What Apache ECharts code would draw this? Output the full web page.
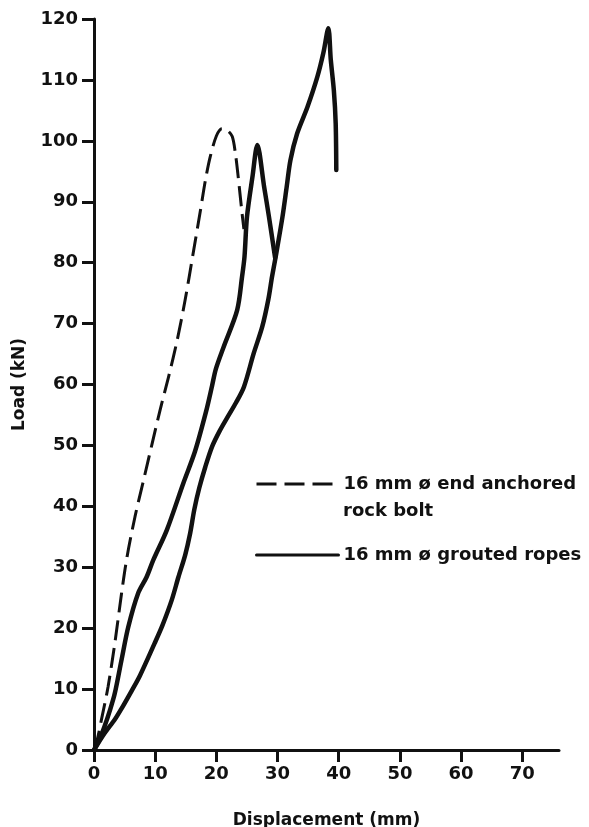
<!DOCTYPE html>
<html>
<head>
<meta charset="utf-8">
<script src="https://cdn.jsdelivr.net/npm/echarts@6/dist/echarts.min.js"></script>
<style>
html,body{margin:0;padding:0;background:#fff;}
#chart{width:589px;height:827px;}
</style>
</head>
<body>
<div id="chart"></div>
<script>
// ---- Data ----
const xTicks = [0, 10, 20, 30, 40, 50, 60, 70];
const yTicks = [0, 10, 20, 30, 40, 50, 60, 70, 80, 90, 100, 110, 120];

const seriesNames = ['16 mm ø end anchored', '16 mm ø grouted ropes'];
const extraLegendLine = 'rock bolt';

// 16 mm end anchored rock bolt (dashed)
const boltX = [0, 0.6, 1.2, 2.3, 3.4, 4.5, 5.4, 6.7, 8.1, 9.5, 10.8, 12.2, 13.6, 14.9, 16.2, 17.4, 18.2, 19.0, 20.0, 20.9, 21.8, 22.6, 23.1, 23.5, 24.2, 24.5];
const boltY = [0, 2.0, 4.9, 10.4, 17.5, 25.7, 31.7, 38.3, 44.3, 50.3, 55.8, 61.3, 67.3, 73.9, 81.5, 88.6, 93.5, 97.4, 100.8, 102.0, 101.7, 100.7, 98.0, 94.7, 88.1, 85.5];

// 16 mm grouted rope, first specimen (peak near 99 kN)
const ropeAX = [0, 0.8, 1.7, 2.6, 3.4, 4.5, 5.6, 7.2, 8.6, 9.7, 11.9, 14.6, 16.5, 18.3, 19.3, 19.9, 21.2, 23.4, 24.2, 24.6, 25.0, 25.9, 26.7, 27.8, 28.6, 29.6];
const ropeAY = [0, 1.5, 3.8, 6.5, 9.3, 14.8, 20.2, 25.7, 28.4, 31.2, 36.1, 43.8, 49.0, 55.5, 59.8, 62.5, 66.2, 72.2, 77.7, 81.0, 87.5, 94.1, 99.3, 92.5, 87.5, 80.8];

// 16 mm grouted rope, second specimen (peak near 118 kN)
const ropeBX = [0, 1.7, 3.4, 4.5, 6.2, 7.5, 9.9, 11.2, 12.7, 13.8, 14.9, 15.7, 16.4, 17.2, 18.2, 19.3, 20.5, 21.8, 23.2, 24.5, 26.1, 27.5, 28.5, 29.1, 29.7, 30.8, 31.5, 32.1, 33.2, 34.9, 36.5, 37.5, 38.3, 38.7, 39.2, 39.5, 39.6];
const ropeBY = [0, 2.7, 5.0, 6.8, 9.8, 12.2, 17.5, 20.5, 24.6, 28.4, 32.0, 35.5, 39.5, 43.0, 46.5, 49.8, 52.3, 54.6, 57.0, 59.6, 65.1, 69.5, 74.0, 77.7, 81.0, 87.5, 92.5, 96.8, 101.2, 105.6, 110.5, 114.5, 118.5, 113.3, 108.3, 102.9, 95.2];

const pairs = (xs, ys) => xs.map((x, i) => [x, ys[i]]);

const INK = '#111';
const FONT = 'DejaVu Sans';

const chart = echarts.init(document.getElementById('chart'), null, {renderer: 'canvas'});
chart.setOption({
  backgroundColor: '#fff',
  animation: false,
  grid: {left: 94, right: 30, top: 19, bottom: 77, containLabel: false, outerBoundsMode: 'none'},
  xAxis: {
    type: 'value', min: 0, max: 76, interval: 10,
    name: 'Displacement (mm)', nameLocation: 'middle', nameGap: 62,
    nameTextStyle: {color: INK, fontFamily: FONT, fontWeight: 'bold', fontSize: 17},
    axisLine: {show: true, lineStyle: {color: INK, width: 3}},
    axisTick: {show: true, length: 12, lineStyle: {color: INK, width: 3}, customValues: xTicks},
    axisLabel: {color: INK, fontFamily: FONT, fontWeight: 'bold', fontSize: 18, margin: 15, customValues: xTicks},
    splitLine: {show: false}
  },
  yAxis: {
    type: 'value', min: 0, max: 120, interval: 10,
    name: 'Load (kN)', nameLocation: 'middle', nameGap: 66, nameRotate: 90,
    nameTextStyle: {color: INK, fontFamily: FONT, fontWeight: 'bold', fontSize: 17},
    axisLine: {show: true, lineStyle: {color: INK, width: 3}},
    axisTick: {show: true, length: 12, lineStyle: {color: INK, width: 3}, customValues: yTicks},
    axisLabel: {color: INK, fontFamily: FONT, fontWeight: 'bold', fontSize: 18, margin: 16, customValues: yTicks},
    splitLine: {show: false}
  },
  legend: {
    orient: 'vertical', left: 250, top: 469,
    itemWidth: 82, itemHeight: 14, itemGap: 51,
    selectedMode: false,
    itemStyle: {opacity: 0},
    lineStyle: {width: 3},
    textStyle: {color: INK, fontFamily: FONT, fontWeight: 'bold', fontSize: 18, lineHeight: 20},
    data: [{name: seriesNames[0]}, {name: seriesNames[1]}]
  },
  graphic: [{
    type: 'text', left: 343, top: 502,
    style: {text: extraLegendLine, fill: INK, font: 'bold 18px "DejaVu Sans"'}
  }],
  series: [
    {
      name: seriesNames[0], type: 'line', data: pairs(boltX, boltY),
      smooth: 0.3, symbol: 'none', showSymbol: false,
      lineStyle: {color: INK, width: 3, type: [20, 8]}, itemStyle: {color: INK}
    },
    {
      name: seriesNames[1], type: 'line', data: pairs(ropeAX, ropeAY),
      smooth: 0.3, symbol: 'none', showSymbol: false,
      lineStyle: {color: INK, width: 4.5, cap: 'round', join: 'round'}, itemStyle: {color: INK}
    },
    {
      name: seriesNames[1], type: 'line', data: pairs(ropeBX, ropeBY),
      smooth: 0.3, symbol: 'none', showSymbol: false,
      lineStyle: {color: INK, width: 4.5, cap: 'round', join: 'round'}, itemStyle: {color: INK}
    }
  ]
});
</script>
</body>
</html>
